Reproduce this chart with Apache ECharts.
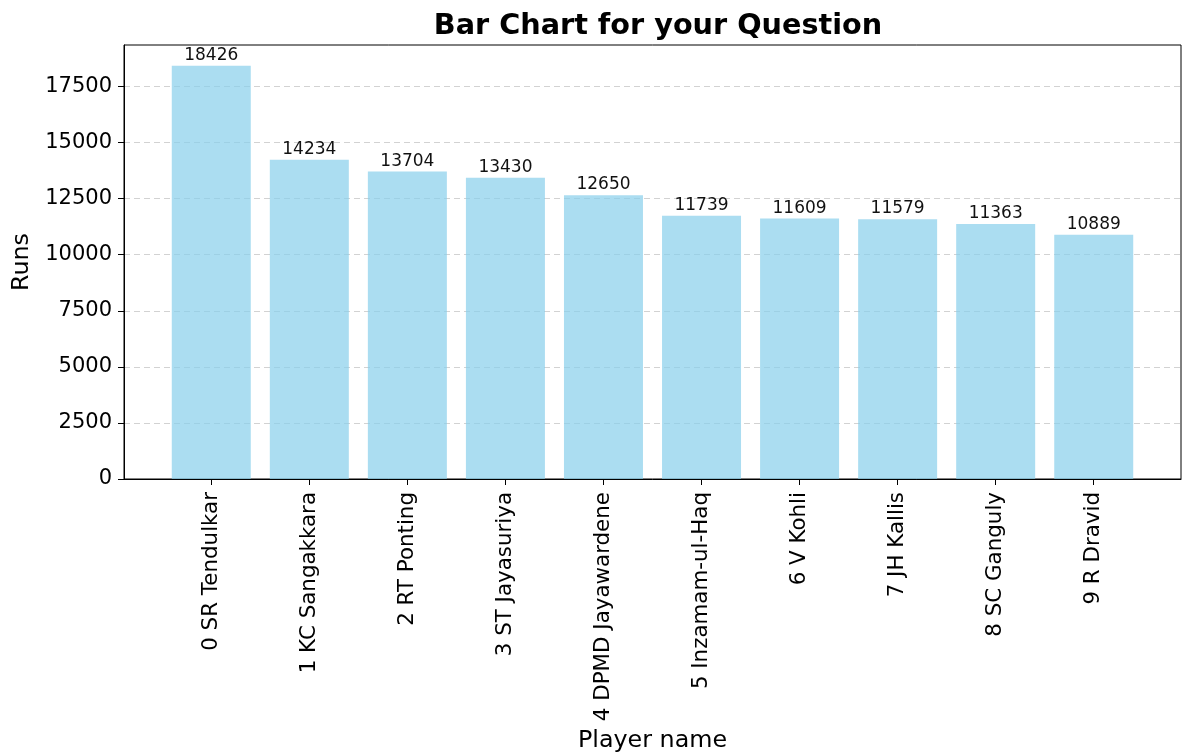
<!DOCTYPE html>
<html>
<head>
<meta charset="utf-8">
<script src="https://cdn.jsdelivr.net/npm/echarts@6/dist/echarts.min.js"></script>
<style>html,body{margin:0;padding:0;background:#fff}#c{width:1182px;height:753px}</style>
</head>
<body>
<div id="c"></div>
<script>
const players = ["0 SR Tendulkar","1 KC Sangakkara","2 RT Ponting","3 ST Jayasuriya","4 DPMD Jayawardene","5 Inzamam-ul-Haq","6 V Kohli","7 JH Kallis","8 SC Ganguly","9 R Dravid"];
const runs = [18426,14234,13704,13430,12650,11739,11609,11579,11363,10889];
const yTicks = [0,2500,5000,7500,10000,12500,15000,17500];

const F = 'DejaVu Sans';
const xIdx = players.map((_, i) => i);
const chart = echarts.init(document.getElementById('c'), null, {renderer:'canvas'});
chart.setOption({
  animation:false,
  backgroundColor:'#fff',
  title:{text:'Bar Chart for your Question', left:653, top:7, textAlign:'center',
    textStyle:{fontFamily:F, fontWeight:'bold', fontSize:28.7, color:'#000'}},
  grid:{left:124, right:1, top:45, bottom:274, show:true, borderColor:'#000', borderWidth:1,
    outerBoundsMode:'none', containLabel:false},
  xAxis:{type:'value', min:-0.89, max:9.89,
    name:'Player name', nameLocation:'middle', nameGap:250,
    nameTextStyle:{fontFamily:F, fontSize:23.8, color:'#000'},
    axisLine:{show:true, onZero:false, lineStyle:{color:'#000', width:1}},
    axisTick:{show:true, length:6, lineStyle:{color:'#000'}, customValues:xIdx},
    axisLabel:{rotate:90, margin:13, fontFamily:F, fontSize:21.4, color:'#000', customValues:xIdx,
      formatter:v => players[Math.round(v)]},
    splitLine:{show:false}},
  yAxis:{type:'value', min:0, max:19347,
    name:'Runs', nameLocation:'middle', nameGap:78, nameRotate:90,
    nameTextStyle:{fontFamily:F, fontSize:23.8, color:'#000'},
    axisLine:{show:true, onZero:false, lineStyle:{color:'#000', width:1}},
    axisTick:{show:true, length:6, lineStyle:{color:'#000'}, customValues:yTicks},
    axisLabel:{margin:12, fontFamily:F, fontSize:21, color:'#000', customValues:yTicks,
      formatter:v => String(v)},
    splitLine:{show:true, lineStyle:{color:'rgba(180,180,180,0.6)', type:[6,4], width:1}}},
  series:[{type:'bar', barWidth:79,
    data:runs.map((v,i)=>[i,v]),
    itemStyle:{color:'rgba(135,206,235,0.7)'},
    label:{show:true, position:'top', distance:2, fontFamily:F, fontSize:17, color:'#111',
      formatter:p => p.value[1]}}]
});
</script>
</body>
</html>
